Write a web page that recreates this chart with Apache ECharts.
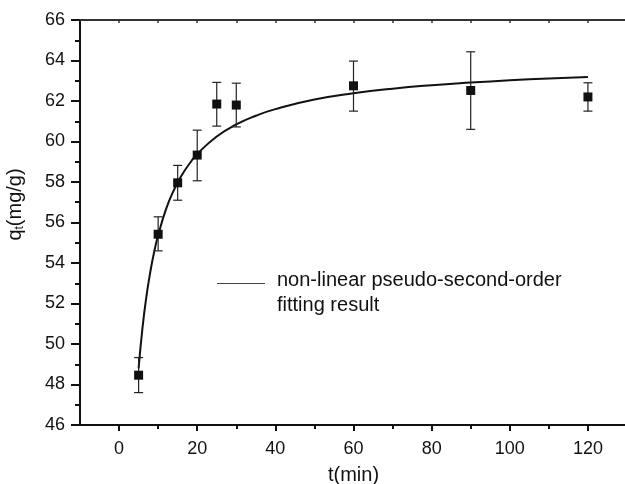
<!DOCTYPE html>
<html>
<head>
<meta charset="utf-8">
<script src="https://cdn.jsdelivr.net/npm/echarts@6/dist/echarts.min.js"></script>
<style>html,body{margin:0;padding:0;background:#fff}#c{width:625px;height:484px}</style>
</head>
<body>
<div id="c"></div>
<script>
// Experimental data
const times = [5, 10, 15, 20, 25, 30, 60, 90, 120];
const qt = [48.46, 55.42, 57.96, 59.33, 61.85, 61.80, 62.75, 62.52, 62.20];
const errLow = [47.60, 54.60, 57.10, 58.06, 60.76, 60.72, 61.50, 60.60, 61.50];
const errHigh = [49.33, 56.28, 58.82, 60.56, 62.92, 62.88, 63.97, 64.43, 62.90];
// Fitted curve
const fitT = [5, 6, 7, 8, 9, 10, 12, 14, 16, 18, 20, 25, 30, 35, 40, 50, 60, 70, 80, 90, 100, 110, 120];
const fitQ = [48.80, 50.81, 52.35, 53.57, 54.56, 55.37, 56.65, 57.59, 58.32, 58.90, 59.38, 60.25, 60.84, 61.27, 61.60, 62.07, 62.38, 62.61, 62.78, 62.91, 63.02, 63.11, 63.18];
// Tick labels
const xMajor = [0, 20, 40, 60, 80, 100, 120];
const xMinor = [10, 30, 50, 70, 90, 110];
const xTop = [0, 10, 20, 30, 40, 50, 60, 70, 80, 90, 100, 110, 120];
const legendName = 'non-linear pseudo-second-order\nfitting result';

const font = 'Liberation Sans, Arial, sans-serif';
const chart = echarts.init(document.getElementById('c'), null, {renderer: 'canvas'});

const pts = times.map((t, i) => [t, qt[i]]);
const errs = times.map((t, i) => [t, errLow[i], errHigh[i]]);
const fit = fitT.map((t, i) => [t, fitQ[i]]);

chart.setOption({
  animation: false,
  backgroundColor: '#fff',
  grid: {left: 80, right: -2, top: 20, bottom: 59, containLabel: false, outerBoundsMode: 'none'},
  legend: {
    data: [legendName],
    left: 212, top: 263,
    itemWidth: 48, itemHeight: 20,
    icon: 'path://M0,0 L48,0 L48,1.1 L0,1.1 Z M0,20 L0.01,20 L0,20.01 Z',
    itemStyle: {color: '#444'},
    textStyle: {fontFamily: font, fontSize: 20, color: '#111', lineHeight: 25, padding: [0, 0, 0, 7]}
  },
  xAxis: [
    {
      type: 'value', min: -10, max: 130, position: 'bottom',
      name: 't(min)', nameLocation: 'middle', nameGap: 40,
      nameTextStyle: {fontFamily: font, fontSize: 20, color: '#111'},
      axisLine: {show: true, onZero: false, lineStyle: {color: '#111', width: 2}},
      axisTick: {show: true, length: 6, lineStyle: {color: '#111', width: 2}, customValues: xMajor},
      axisLabel: {fontFamily: font, fontSize: 18, color: '#111', margin: 15, customValues: xMajor},
      splitLine: {show: false}
    },
    {
      type: 'value', min: -10, max: 130, position: 'bottom',
      axisLine: {show: false, onZero: false},
      axisTick: {show: true, length: 4, lineStyle: {color: '#111', width: 2}, customValues: xMinor},
      axisLabel: {show: false},
      splitLine: {show: false}
    },
    {
      type: 'value', min: -10, max: 130, position: 'top',
      axisLine: {show: true, onZero: false, lineStyle: {color: '#333', width: 2}},
      axisTick: {show: true, inside: true, length: 3, lineStyle: {color: '#333', width: 1.5}, customValues: xTop},
      axisLabel: {show: false},
      splitLine: {show: false}
    }
  ],
  yAxis: {
    type: 'value', min: 46, max: 66, interval: 2,
    name: 'q{sub|t}(mg/g)', nameLocation: 'middle', nameGap: 54, nameRotate: 90,
    nameTextStyle: {fontFamily: font, fontSize: 20, color: '#111', padding: [0, 0, 0, 36],
      rich: {sub: {fontFamily: font, fontSize: 12, color: '#111', verticalAlign: 'bottom', padding: [9, 0, 0, 0]}}},
    axisLine: {show: true, onZero: false, lineStyle: {color: '#111', width: 2}},
    axisTick: {show: true, length: 9, lineStyle: {color: '#111', width: 2}},
    minorTick: {show: true, splitNumber: 2, length: 5, lineStyle: {color: '#111', width: 2}},
    axisLabel: {fontFamily: font, fontSize: 18, color: '#111', margin: 15},
    splitLine: {show: false}
  },
  series: [
    {
      name: legendName, type: 'line', data: fit, smooth: true, showSymbol: false,
      lineStyle: {color: '#111', width: 2}, itemStyle: {color: '#111'}, z: 2
    },
    {
      name: 'err', type: 'custom', data: errs, z: 3,
      renderItem: function (params, api) {
        const x = api.value(0);
        const lo = api.coord([x, api.value(1)]);
        const hi = api.coord([x, api.value(2)]);
        const w = 4.5;
        const st = {stroke: '#222', lineWidth: 1.2};
        return {type: 'group', children: [
          {type: 'line', shape: {x1: lo[0], y1: lo[1], x2: hi[0], y2: hi[1]}, style: st},
          {type: 'line', shape: {x1: lo[0] - w, y1: lo[1], x2: lo[0] + w, y2: lo[1]}, style: st},
          {type: 'line', shape: {x1: hi[0] - w, y1: hi[1], x2: hi[0] + w, y2: hi[1]}, style: st}
        ]};
      }
    },
    {
      name: 'data', type: 'scatter', data: pts, symbol: 'rect', symbolSize: 9,
      itemStyle: {color: '#111', opacity: 1}, z: 4
    }
  ]
});
</script>
</body>
</html>
